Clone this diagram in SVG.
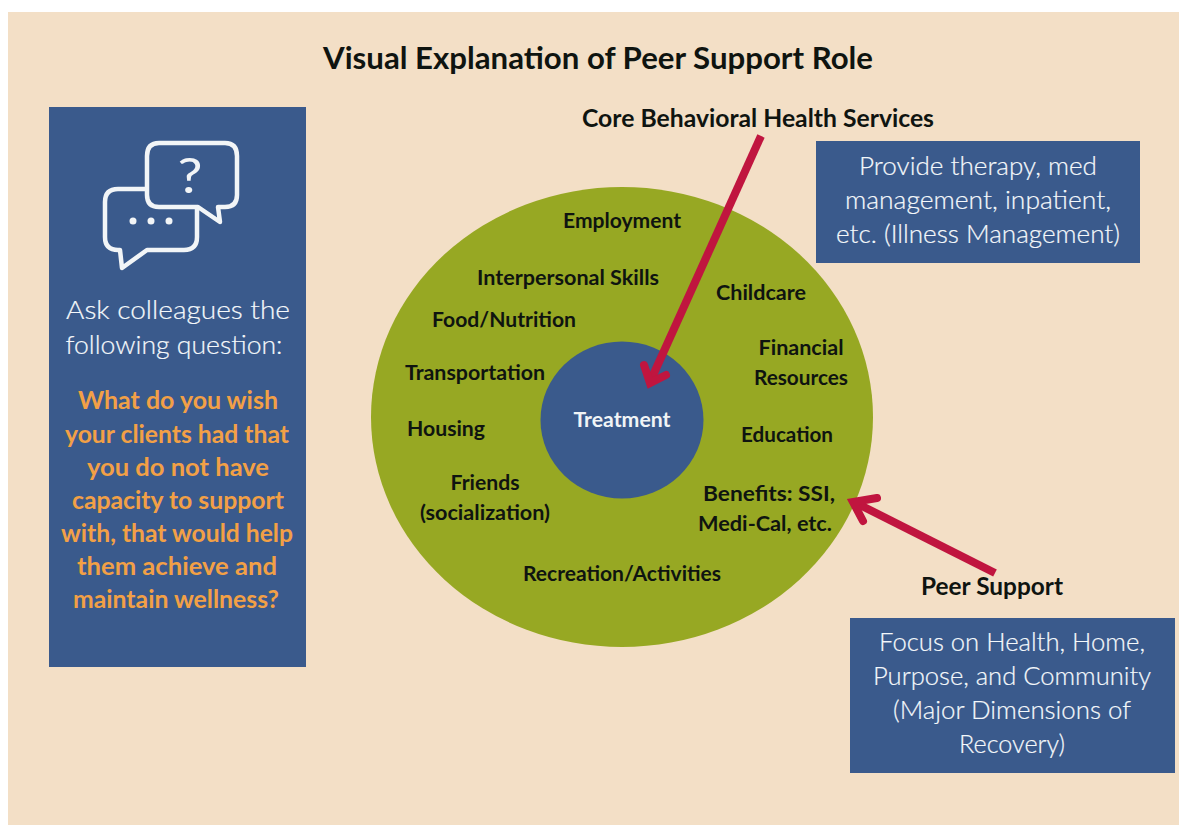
<svg xmlns="http://www.w3.org/2000/svg" width="1179" height="825" viewBox="0 0 1179 825">
<style>
text{font-family:"Lato","Open Sans","Liberation Sans",sans-serif;text-anchor:middle}
.b{font-weight:700;fill:#0f1410;font-size:21px}
.w{fill:#f4f8fb;stroke:#f4f8fb;stroke-width:0.200;font-size:25px;font-weight:300}
.o{fill:#f2a046;font-weight:700;font-size:25px}
.box{fill:#3a5a8c}
.arrow{fill:none;stroke:#c0153f;stroke-width:8}
.ic{fill:none;stroke:#f2f5f7;stroke-width:4.500;stroke-linejoin:round}
</style>
<rect width="1179" height="825" fill="#fff"/>
<rect x="8" y="12" width="1171" height="813" fill="#f3dfc6"/>
<text x="598" y="69" font-size="30" style="font-weight:700;fill:#0f1410" textLength="550" lengthAdjust="spacingAndGlyphs">Visual Explanation of Peer Support Role</text>
<g id="left-panel">
<rect class="box" x="49" y="107" width="257" height="560"/>
<path class="ic" d="M159 143H225Q237 143 237 156V195Q237 207 225 207H218L220 222L198 207H159Q147 207 147 195V156Q147 143 159 143Z"/>
<path class="ic" d="M147 189H118Q105 189 105 202V237Q105 250 118 250H120L122 268L147 250H184Q197 250 197 237V208"/>
<text x="190" y="193" font-size="48" fill="#f2f5f7" style="font-weight:400" textLength="25" lengthAdjust="spacingAndGlyphs">?</text>
<circle cx="133" cy="221" r="3.500" fill="#f2f5f7"/><circle cx="151" cy="221" r="3.500" fill="#f2f5f7"/><circle cx="169" cy="221" r="3.500" fill="#f2f5f7"/>
<text class="w" x="178" y="319" textLength="224" lengthAdjust="spacingAndGlyphs">Ask colleagues the</text>
<text class="w" x="174" y="354" textLength="217" lengthAdjust="spacingAndGlyphs">following question:</text>
<text class="o" x="178" y="409" textLength="200" lengthAdjust="spacingAndGlyphs">What do you wish</text>
<text class="o" x="177" y="443" textLength="224" lengthAdjust="spacingAndGlyphs">your clients had that</text>
<text class="o" x="178" y="476" textLength="182" lengthAdjust="spacingAndGlyphs">you do not have</text>
<text class="o" x="178" y="509" textLength="212" lengthAdjust="spacingAndGlyphs">capacity to support</text>
<text class="o" x="177" y="542" textLength="232" lengthAdjust="spacingAndGlyphs">with, that would help</text>
<text class="o" x="177" y="575" textLength="200" lengthAdjust="spacingAndGlyphs">them achieve and</text>
<text class="o" x="176" y="608" textLength="206" lengthAdjust="spacingAndGlyphs">maintain wellness?</text>
</g>
<g id="outer-circle">
<ellipse cx="622" cy="417" rx="251" ry="230" fill="#97a823"/>
<text class="b" x="622" y="228" textLength="118" lengthAdjust="spacingAndGlyphs">Employment</text>
<text class="b" x="568" y="285" textLength="182" lengthAdjust="spacingAndGlyphs">Interpersonal Skills</text>
<text class="b" x="761" y="300" textLength="90" lengthAdjust="spacingAndGlyphs">Childcare</text>
<text class="b" x="504" y="327" textLength="144" lengthAdjust="spacingAndGlyphs">Food/Nutrition</text>
<text class="b" x="801" y="355" textLength="85" lengthAdjust="spacingAndGlyphs">Financial</text>
<text class="b" x="801" y="385" textLength="94" lengthAdjust="spacingAndGlyphs">Resources</text>
<text class="b" x="475" y="380" textLength="140" lengthAdjust="spacingAndGlyphs">Transportation</text>
<text class="b" x="446" y="436" textLength="78" lengthAdjust="spacingAndGlyphs">Housing</text>
<text class="b" x="787" y="442" textLength="92" lengthAdjust="spacingAndGlyphs">Education</text>
<text class="b" x="485" y="490" textLength="69" lengthAdjust="spacingAndGlyphs">Friends</text>
<text class="b" x="485" y="520" textLength="130" lengthAdjust="spacingAndGlyphs">(socialization)</text>
<text class="b" x="769" y="501" textLength="132" lengthAdjust="spacingAndGlyphs">Benefits: SSI,</text>
<text class="b" x="765" y="531" textLength="134" lengthAdjust="spacingAndGlyphs">Medi-Cal, etc.</text>
<text class="b" x="622" y="581" textLength="198" lengthAdjust="spacingAndGlyphs">Recreation/Activities</text>
</g>
<g id="treatment">
<ellipse cx="622" cy="420" rx="81.500" ry="78.500" fill="#3a5a8c"/>
<text x="622" y="427" font-size="20" style="font-weight:700;fill:#f0f4f6" textLength="97" lengthAdjust="spacingAndGlyphs">Treatment</text>
</g>
<g id="core-services">
<text class="b" x="758" y="127" style="font-size:24px" textLength="352" lengthAdjust="spacingAndGlyphs">Core Behavioral Health Services</text>
<rect class="box" x="816" y="141" width="324" height="122"/>
<text class="w" x="978" y="175" textLength="238" lengthAdjust="spacingAndGlyphs">Provide therapy, med</text>
<text class="w" x="978" y="209" textLength="266" lengthAdjust="spacingAndGlyphs">management, inpatient,</text>
<text class="w" x="978" y="243" textLength="284" lengthAdjust="spacingAndGlyphs">etc. (Illness Management)</text>
</g>
<g id="peer-support">
<text class="b" x="992" y="595" style="font-size:24px" textLength="142" lengthAdjust="spacingAndGlyphs">Peer Support</text>
<rect class="box" x="850" y="618" width="325" height="155"/>
<text class="w" x="1012" y="651" textLength="266" lengthAdjust="spacingAndGlyphs">Focus on Health, Home,</text>
<text class="w" x="1012" y="685" textLength="278" lengthAdjust="spacingAndGlyphs">Purpose, and Community</text>
<text class="w" x="1012" y="719" textLength="238" lengthAdjust="spacingAndGlyphs">(Major Dimensions of</text>
<text class="w" x="1012" y="753" textLength="106" lengthAdjust="spacingAndGlyphs">Recovery)</text>
</g>
<g id="connectors">
<path class="arrow" d="M761 136L650 382"/>
<path class="arrow" stroke-linecap="round" d="M644 365L650 383L666 375"/>
<path class="arrow" d="M995 573L856 503"/>
<path class="arrow" stroke-linecap="round" d="M877 498L853 502L863 521"/>
</g>
</svg>
